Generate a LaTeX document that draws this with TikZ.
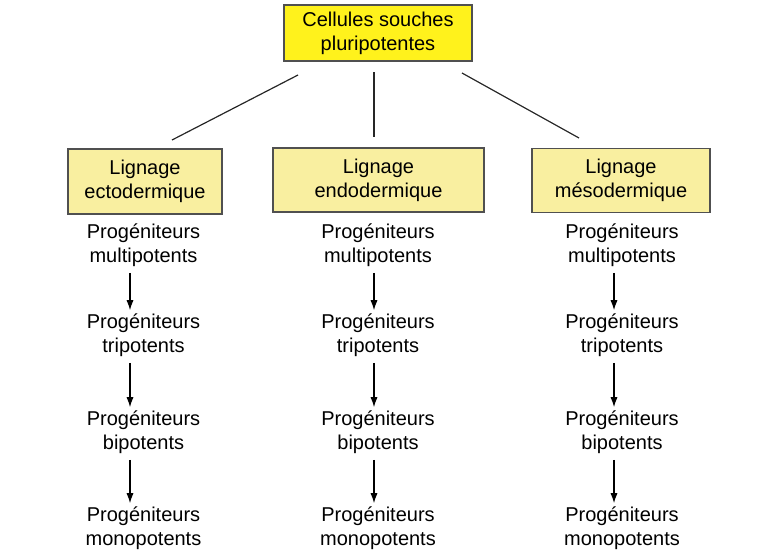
\documentclass[tikz,border=0pt]{standalone}
\usepackage{fontspec}
\setmainfont{Liberation Sans}
\usetikzlibrary{arrows.meta}

\definecolor{topyellow}{HTML}{FFF21C}
\definecolor{paleyellow}{HTML}{F9EFA0}
\definecolor{boxline}{HTML}{505050}

\tikzset{
  lignage/.style={draw=boxline, fill=paleyellow, line width=0.6pt, align=center, inner sep=0pt},
  progtext/.style={align=center, inner sep=0pt},
  trait/.style={line width=0.6pt, black!85},
  fleche/.style={-{Latex[length=5pt,width=3.6pt]}, line width=0.6pt, shorten <=3pt, shorten >=1.5pt},
}

\begin{document}
\begin{tikzpicture}[x=0.5pt, y=-0.5pt, font=\fontsize{10}{12}\selectfont]
        \useasboundingbox (0,0) rectangle (780,557);

        \node[lignage, fill=topyellow, minimum width=94pt, minimum height=28pt] (souches) at (378,33) {Cellules souches\\pluripotentes};

        \node[lignage, minimum width=77pt, minimum height=32.5pt] (ecto) at (145,181.5) {Lignage\\ectodermique};
        \node[lignage, minimum width=105.5pt, minimum height=32pt] (endo) at (378.5,180) {Lignage\\endodermique};
        \node[lignage, minimum width=89pt, minimum height=32pt] (meso) at (621,180.5) {Lignage\\mésodermique};

        \coordinate (haut-g) at (298,75);
        \coordinate (bas-g) at (172,140);
        \coordinate (haut-m) at (374,72);
        \coordinate (bas-m) at (374,137);
        \coordinate (haut-d) at (462,73);
        \coordinate (bas-d) at (579,138);
        \draw[trait] (haut-g) -- (bas-g);
        \draw[trait] (haut-m) -- (bas-m);
        \draw[trait] (haut-d) -- (bas-d);

        \foreach \col/\x/\dx in {ecto/143.5/-6.75pt, endo/378/-2pt, meso/622/-4pt} {
            \node[progtext] (\col-multi) at (\x,245) {Progéniteurs\\multipotents};
            \node[progtext] (\col-tri) at (\x,335) {Progéniteurs\\tripotents};
            \node[progtext] (\col-bi) at (\x,432) {Progéniteurs\\bipotents};
            \node[progtext] (\col-mono) at (\x,528) {Progéniteurs\\monopotents};
            \draw[fleche] ([xshift=\dx]\col-multi.south) -- ([xshift=\dx]\col-tri.north);
            \draw[fleche] ([xshift=\dx]\col-tri.south) -- ([xshift=\dx]\col-bi.north);
            \draw[fleche] ([xshift=\dx]\col-bi.south) -- ([xshift=\dx]\col-mono.north);
        }
    \end{tikzpicture}
\end{document}
